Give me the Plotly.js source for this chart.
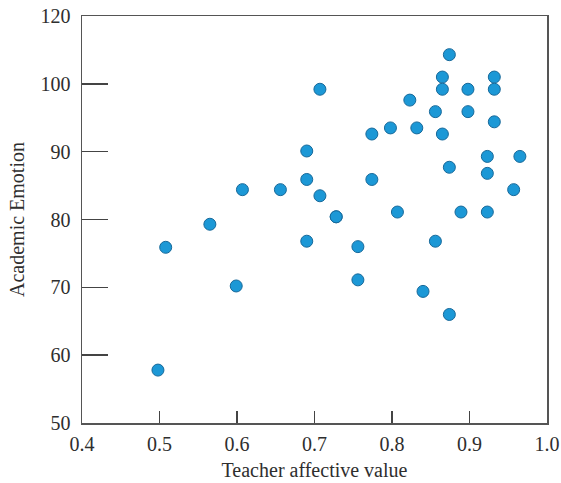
<!DOCTYPE html>
<html>
<head>
<meta charset="utf-8">
<script src="https://cdn.plot.ly/plotly-3.0.1.min.js"></script>
<style>html,body{margin:0;padding:0;background:#fff;}#chart{width:561px;height:483px;}</style>
</head>
<body>
<div id="chart"></div>
<script>
// Teacher affective value (x) vs Academic Emotion (y)
const teacherAffective = [
  0.874, 0.865, 0.932, 0.707, 0.865, 0.898, 0.932, 0.823, 0.856, 0.898,
  0.932, 0.798, 0.832, 0.774, 0.865, 0.690, 0.923, 0.965, 0.874, 0.923,
  0.690, 0.774, 0.656, 0.957, 0.707, 0.728, 0.728, 0.807, 0.889, 0.923,
  0.690, 0.856, 0.607, 0.565, 0.508, 0.599, 0.498, 0.756, 0.756, 0.840,
  0.874
];
const academicEmotion = [
  104.3, 101.0, 101.0, 99.2, 99.2, 99.2, 99.2, 97.6, 95.9, 95.9,
  94.4, 93.5, 93.5, 92.6, 92.6, 90.1, 89.3, 89.3, 87.7, 86.8,
  85.9, 85.9, 84.4, 84.4, 83.5, 80.4, 80.4, 81.1, 81.1, 81.1,
  76.8, 76.8, 84.4, 79.3, 75.9, 70.2, 57.8, 76.0, 71.1, 69.4,
  66.0
];
// Axis as printed: the top label reads 120 but sits one step above 100
const yTickVals = [50, 60, 70, 80, 90, 100, 110];
const yTickText = ['50', '60', '70', '80', '90', '100', '120'];
const xTickVals = [0.4, 0.5, 0.6, 0.7, 0.8, 0.9, 1.0];
const xTickText = ['0.4', '0.5', '0.6', '0.7', '0.8', '0.9', '1.0'];

const font = {family: 'Liberation Serif, DejaVu Serif, serif', size: 20, color: '#2e2e2e'};

Plotly.newPlot('chart', [{
  type: 'scatter', mode: 'markers',
  x: teacherAffective, y: academicEmotion,
  marker: {size: 12, color: '#1c98d6', line: {color: '#17699a', width: 1}},
  hoverinfo: 'x+y'
}], {
  width: 561, height: 483,
  margin: {l: 82, r: 14, t: 16, b: 60},
  paper_bgcolor: '#fff', plot_bgcolor: '#fff',
  font: font,
  showlegend: false,
  xaxis: {
    range: [0.4, 1.0], tickvals: xTickVals, ticktext: xTickText,
    ticks: 'inside', ticklen: 12, tickwidth: 1.5, tickcolor: '#444',
    showline: true, linecolor: '#555', linewidth: 1.5, mirror: true,
    showgrid: false, zeroline: false,
    tickfont: font, ticklabelstandoff: 2,
    title: {text: 'Teacher affective value', font: font, standoff: 9}
  },
  yaxis: {
    range: [50, 110], tickvals: yTickVals, ticktext: yTickText,
    ticks: 'inside', ticklen: 26, tickwidth: 1.5, tickcolor: '#444',
    showline: true, linecolor: '#555', linewidth: 1.5, mirror: true,
    showgrid: false, zeroline: false,
    tickfont: font, ticklabelstandoff: 6,
    title: {text: 'Academic Emotion', font: font, standoff: 10}
  }
}, {displayModeBar: false, staticPlot: true});
</script>
</body>
</html>
